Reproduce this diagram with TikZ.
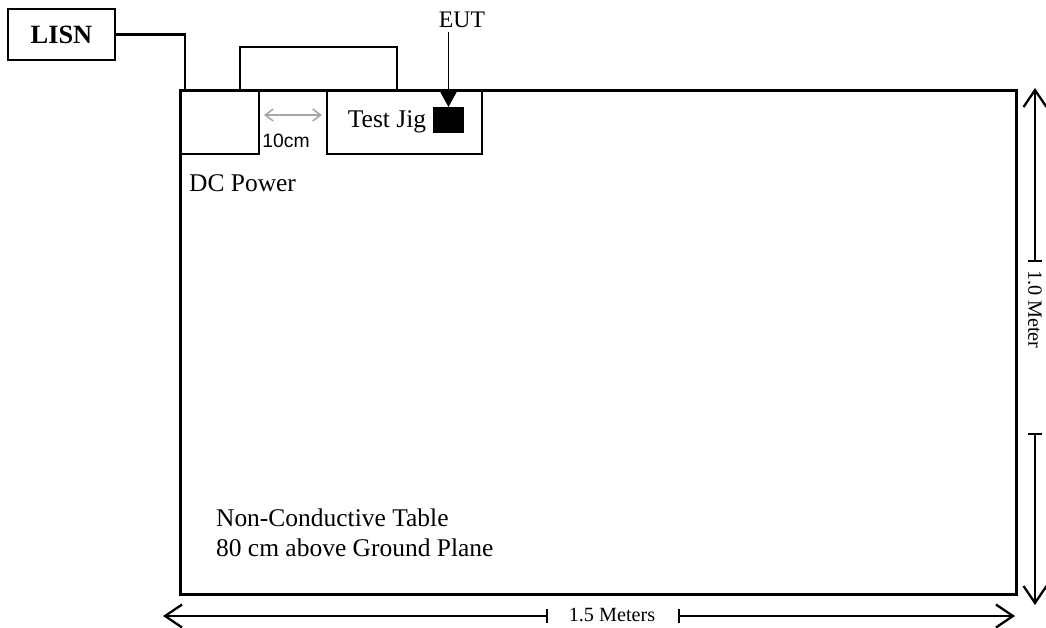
\documentclass[tikz,border=0pt]{standalone}
\usepackage{fontspec}
\setmainfont{Liberation Serif}
\setsansfont{Liberation Sans}
\usetikzlibrary{arrows.meta,positioning}

\begin{document}
\begin{tikzpicture}[
	x=0.2mm,y=-0.2mm,
	box/.style={draw,line width=1.1pt,inner sep=0pt,anchor=north west},
	lbl/.style={font=\fontsize{14.5}{17}\selectfont,inner sep=1pt},
	dimlbl/.style={font=\fontsize{11.5}{13}\selectfont,inner sep=1pt},
	cable/.style={line width=1.7pt},
	dim/.style={line width=0.8pt,{Straight Barb[length=3.4mm,width=4.6mm,line width=1.3pt]}-{Bar[width=2.8mm,line width=0.9pt]}},
	gap/.style={gray!70,line width=0.9pt,{Straight Barb[length=1.6mm,width=2.4mm]}-{Straight Barb[length=1.6mm,width=2.4mm]}}
	]
	\useasboundingbox (0,0) rectangle (1046,627);
	% table and equipment
	\node[box,line width=1.8pt,minimum width=167.2mm,minimum height=100.8mm] (table) at (179,89) {};
	\node[box,minimum width=21.4mm,minimum height=10.2mm] (lisn) at (7,8) {};
	\node[lbl,font=\fontsize{15}{17}\selectfont\bfseries] (lisnlbl) at (lisn.center) {LISN};
	\node[box,minimum width=15.8mm,minimum height=12.6mm] (dc) at (179,90) {};
	\node[box,minimum width=31mm,minimum height=12.6mm] (jig) at (326,90) {};
	\node[lbl] (jiglbl) at (387,122) {Test Jig};
	\node[box,fill=black,minimum width=5.8mm,minimum height=4.8mm] (eut) at (433,107) {};
	\node[lbl,font=\fontsize{13.5}{16}\selectfont] (eutlbl) at (462,20) {EUT};
	\node[lbl,anchor=west] (dclbl) at (187,183) {DC Power};
	\node[font=\sffamily\fontsize{11}{12}\selectfont,inner sep=1pt] (gaplbl) at (286,141) {10cm};
	\node[lbl,anchor=base west] (note1) at (214,526) {Non-Conductive Table};
	\node[lbl,anchor=base west] (note2) at (214,556) {80 cm above Ground Plane};
	% cables
	\coordinate (pwrin) at (185,89);
	\draw[cable] (lisn.east) -| (pwrin);
	\coordinate (la) at (240,89);
	\coordinate (lb) at (397,89);
	\draw[line width=1.1pt] (la) -- ++(0,-42) -| (lb);
	\draw[line width=0.9pt,-{Triangle[length=3mm,width=3.2mm]}] (eutlbl.south -| eut.north) ++(0,2) -- (eut.north);
	\draw[gap] ([xshift=0.8mm]dc.north east |- 0,115) -- ([xshift=-0.8mm]jig.north west |- 0,115);
	% dimensions
	\coordinate (vtop) at (1035,88);
	\coordinate (vbot) at (1035,605);
	\node[dimlbl,rotate=-90,anchor=west] (vlbl) at (1035,268) {1.0 Meter};
	\draw[dim] (vtop) -- (1035,262);
	\draw[dim] (vbot) -- (1035,433);
	\coordinate (hleft) at (163,616);
	\coordinate (hright) at (1015,616);
	\node[dimlbl] (hlbl) at (612,615) {1.5 Meters};
	\draw[dim] (hleft) -- (548,616);
	\draw[dim] (hright) -- (678,616);
\end{tikzpicture}
\end{document}
